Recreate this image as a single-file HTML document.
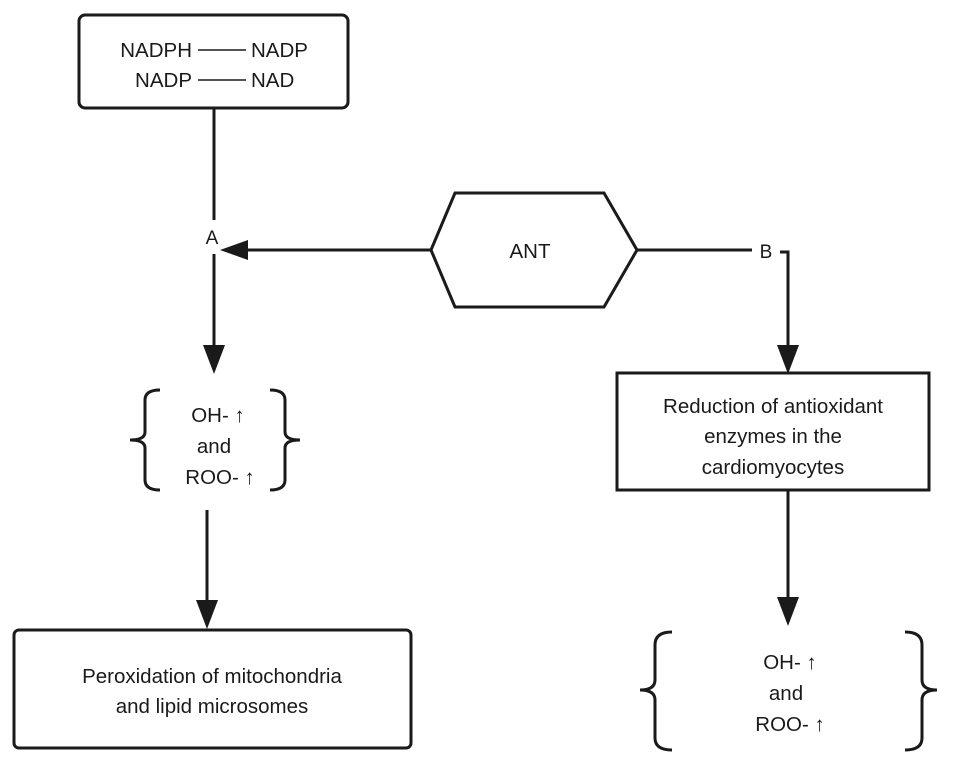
<!DOCTYPE html>
<html><head><meta charset="utf-8"><style>
html,body{margin:0;padding:0;background:#fff;}
svg{display:block;}
text{font-family:"Liberation Sans",Arial,sans-serif;fill:#1a1a1a;}
</style></head><body>
<svg width="969" height="765" viewBox="0 0 969 765" xmlns="http://www.w3.org/2000/svg">
<g stroke="#1a1a1a" stroke-width="3" fill="none">
<rect x="79" y="15" width="269" height="93" rx="6"/>
<line x1="214" y1="108" x2="214" y2="220"/>
<line x1="214" y1="254" x2="214" y2="350"/>
<polygon points="431,250 455,193 604,193 637,250 604,307 455,307"/>
<line x1="431" y1="250" x2="245" y2="250"/>
<line x1="637" y1="250" x2="752" y2="250"/>
<polyline points="780,252 788,252 788,350"/>
<rect x="617" y="373" width="312" height="117"/>
<line x1="788" y1="490" x2="788" y2="602"/>
<line x1="207" y1="510" x2="207" y2="605"/>
<rect x="14" y="630" width="397" height="118" rx="5"/>
<path d="M160,390 Q145,390 145,400 L145,432 Q145,440 130,440 Q145,440 145,448 L145,480 Q145,490 160,490"/>
<path d="M270,390 Q285,390 285,400 L285,432 Q285,440 300,440 Q285,440 285,448 L285,480 Q285,490 270,490"/>
<path d="M672,632 Q655,632 655,645 L655,680 Q655,690 640,690 Q655,690 655,700 L655,738 Q655,750 672,750"/>
<path d="M905,632 Q922,632 922,645 L922,680 Q922,690 937,690 Q922,690 922,700 L922,738 Q922,750 905,750"/>
</g>
<g fill="#1a1a1a">
<polygon points="220,250 248,240 248,260"/>
<polygon points="214,374 203,345 225,345"/>
<polygon points="788,374 777,345 799,345"/>
<polygon points="207,629 196,600 218,600"/>
<polygon points="788,626 777,597 799,597"/>
</g>
<g stroke="#1a1a1a" stroke-width="1.5">
<line x1="198" y1="50" x2="246" y2="50"/>
<line x1="198" y1="80" x2="246" y2="80"/>
</g>
<g font-size="20.5">
<text x="192" y="57" text-anchor="end">NADPH</text>
<text x="251" y="57">NADP</text>
<text x="192" y="87" text-anchor="end">NADP</text>
<text x="251" y="87">NAD</text>
<text x="212" y="244" text-anchor="middle" font-size="19">A</text>
<text x="530" y="258" text-anchor="middle">ANT</text>
<text x="766" y="258" text-anchor="middle" font-size="19">B</text>
<text x="773" y="413" text-anchor="middle">Reduction of antioxidant</text>
<text x="773" y="443" text-anchor="middle">enzymes in the</text>
<text x="773" y="474" text-anchor="middle">cardiomyocytes</text>
<text x="218" y="422" text-anchor="middle">OH- ↑</text>
<text x="214" y="453" text-anchor="middle">and</text>
<text x="220" y="484" text-anchor="middle">ROO- ↑</text>
<text x="212" y="683" text-anchor="middle">Peroxidation of mitochondria</text>
<text x="212" y="713" text-anchor="middle">and lipid microsomes</text>
<text x="790" y="669" text-anchor="middle">OH- ↑</text>
<text x="786" y="700" text-anchor="middle">and</text>
<text x="790" y="731" text-anchor="middle">ROO- ↑</text>
</g>
</svg>
</body></html>
